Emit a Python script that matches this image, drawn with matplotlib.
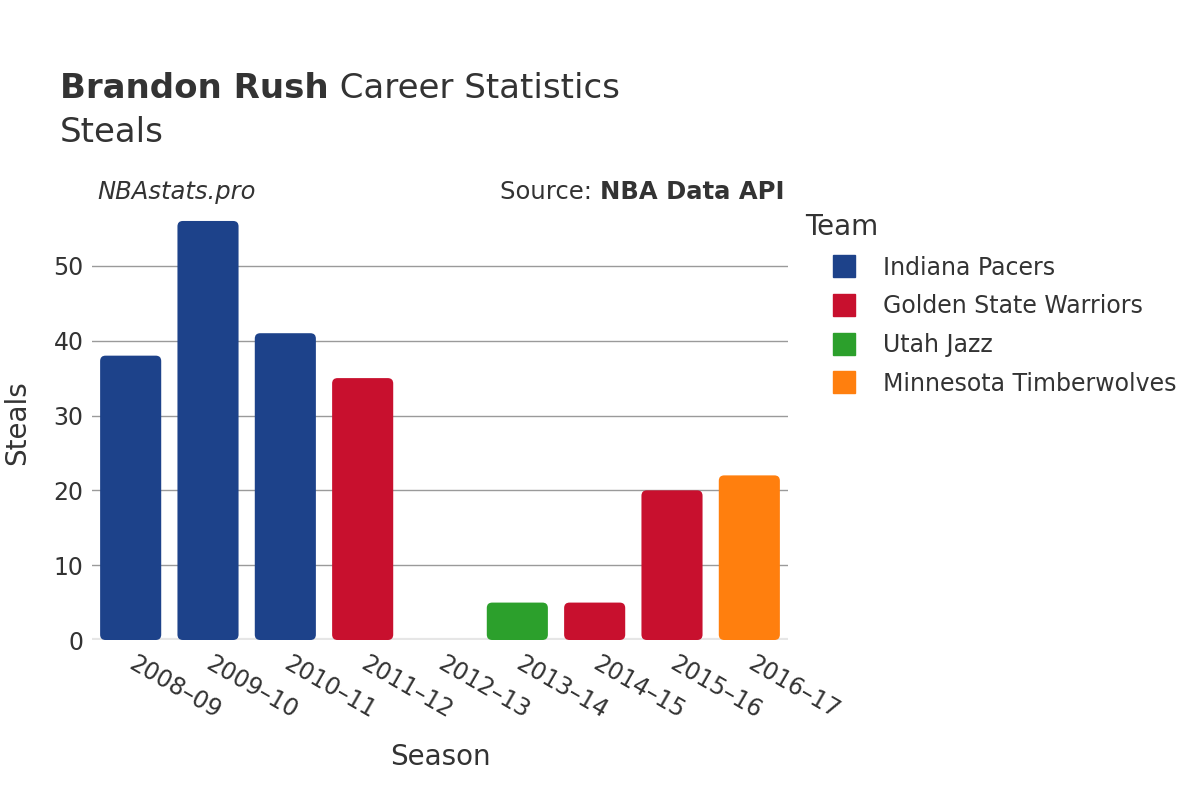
import matplotlib
matplotlib.use('Agg')
import matplotlib.pyplot as plt
from matplotlib.lines import Line2D
from matplotlib.patches import FancyBboxPatch

# Veriler
seasons = ['2008–09', '2009–10', '2010–11', '2011–12', '2012–13',
           '2013–14', '2014–15', '2015–16', '2016–17']
steals = [38, 56, 41, 35, 0, 5, 5, 20, 22]
teams = ['Indiana Pacers', 'Indiana Pacers', 'Indiana Pacers',
         'Golden State Warriors', 'Golden State Warriors', 'Utah Jazz',
         'Golden State Warriors', 'Golden State Warriors', 'Minnesota Timberwolves']
team_order = ['Indiana Pacers', 'Golden State Warriors', 'Utah Jazz', 'Minnesota Timberwolves']
team_colors = {
    'Indiana Pacers': '#1d428a',
    'Golden State Warriors': '#c8102e',
    'Utah Jazz': '#2ca02c',
    'Minnesota Timberwolves': '#ff7f0e',
}

text_color = '#333333'
plt.rcParams['font.family'] = ['DejaVu Sans']

fig = plt.figure(figsize=(12, 8), dpi=100)
ax = fig.add_axes([92 / 1200, 160 / 800, (788 - 92) / 1200, (640 - 206) / 800])

ymax = 58
ax.set_xlim(-0.5, len(seasons) - 0.5)
ax.set_ylim(0, ymax)

# Grid çizgileri
for y in [10, 20, 30, 40, 50]:
    ax.axhline(y, color='#9a9a9a', linewidth=1, zorder=0)
ax.axhline(0, color='#e6e6e6', linewidth=3, zorder=0)

# Yuvarlatılmış köşeli barlar
px_x = (788 - 92) / len(seasons)
px_y = (640 - 206) / ymax
aspect = (1 / px_y) / (1 / px_x)
bars = ax.bar(range(len(seasons)), steals, width=0.79,
              color=[team_colors[t] for t in teams])
for b in bars:
    b.set_visible(False)
    if b.get_height() <= 0:
        continue
    p = FancyBboxPatch((b.get_x(), b.get_y()), b.get_width(), b.get_height(),
                       boxstyle='round,pad=0,rounding_size=0.07',
                       mutation_aspect=aspect, facecolor=b.get_facecolor(),
                       edgecolor='none', zorder=2)
    ax.add_patch(p)

for s in ax.spines.values():
    s.set_visible(False)

ax.set_yticks([0, 10, 20, 30, 40, 50])
ax.tick_params(axis='y', length=0, labelsize=17, labelcolor=text_color, pad=6)
ax.set_xticks(range(len(seasons)))
ax.set_xticklabels(seasons, rotation=-30, ha='left', va='center',
                   rotation_mode='anchor', fontsize=17, color=text_color)
ax.tick_params(axis='x', length=0, pad=16)

ax.set_xlabel('Season', fontsize=20, color=text_color, labelpad=14)
ax.set_ylabel('Steals', fontsize=20, color=text_color, labelpad=16)

# Başlıklar
fig.canvas.draw()
r = fig.canvas.get_renderer()
t1 = fig.text(60 / 1200, 1 - 88 / 800, 'Brandon Rush', fontsize=24.5, fontweight='bold',
              color=text_color, va='center', ha='left')
w1 = t1.get_window_extent(r).width
fig.text((60 + w1) / 1200, 1 - 88 / 800, ' Career Statistics', fontsize=24.5,
         color=text_color, va='center', ha='left')
fig.text(60 / 1200, 1 - 132 / 800, 'Steals', fontsize=24.5, color=text_color,
         va='center', ha='left')
fig.text(97 / 1200, 1 - 192 / 800, 'NBAstats.pro', fontsize=17.5, style='italic',
         color=text_color, va='center', ha='left')
t2 = fig.text(784 / 1200, 1 - 192 / 800, 'NBA Data API', fontsize=17.5, fontweight='bold',
              color=text_color, va='center', ha='right')
w2 = t2.get_window_extent(r).width
fig.text((784 - w2) / 1200, 1 - 192 / 800, 'Source: ', fontsize=17.5,
         color=text_color, va='center', ha='right')

# Lejant
handles = [Line2D([], [], marker='s', linestyle='none', markersize=16,
                  markerfacecolor=team_colors[t], markeredgecolor=team_colors[t])
           for t in team_order]
leg = fig.legend(handles, team_order, loc='upper left',
                 bbox_to_anchor=(805 / 1200, 1 - 213 / 800), frameon=False,
                 fontsize=17, title='Team', title_fontsize=20,
                 labelspacing=0.62, handletextpad=0.0, handlelength=3.3,
                 borderaxespad=0, borderpad=0)
leg._legend_box.align = 'left'
for t in leg.get_texts():
    t.set_color(text_color)
leg.get_title().set_color(text_color)

plt.savefig('out.png', dpi=100)
plt.close()
